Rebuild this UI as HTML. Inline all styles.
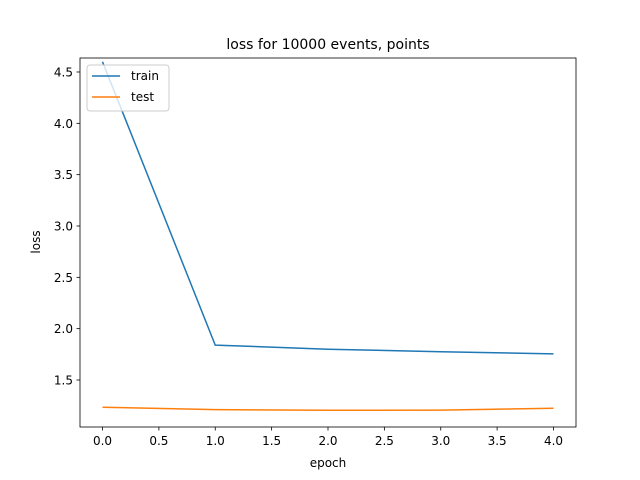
<!DOCTYPE html>
<html><head><meta charset="utf-8">
<style>body{margin:0;background:#fff}svg{display:block;font-family:"DejaVu Sans","Liberation Sans",sans-serif}</style>
</head><body>
<svg id="chart" width="640" height="480">
<rect width="640" height="480" fill="#fff"/>
<text x="328" y="49" font-size="14" text-anchor="middle">loss for 10000 events, points</text>
<g id="plot"></g>
<rect x="80" y="58" width="496" height="369" fill="none" stroke="#000" stroke-width="0.8"/>
<text x="328" y="467" font-size="12" text-anchor="middle">epoch</text>
<text transform="translate(40,242) rotate(-90)" font-size="12" text-anchor="middle">loss</text>
<g>
<rect x="87" y="65" width="82" height="46" rx="3" fill="#fff" fill-opacity="0.8" stroke="#ccc"/>
<line x1="92" y1="76" x2="120" y2="76" stroke="#1f77b4" stroke-width="1.5"/>
<text x="131" y="80" font-size="12">train</text>
<line x1="92" y1="97" x2="120" y2="97" stroke="#ff7f0e" stroke-width="1.5"/>
<text x="131" y="101" font-size="12">test</text>
</g>
</svg>
<script>
const epochs = [0, 1, 2, 3, 4];
const trainLoss = [4.6, 1.84, 1.80, 1.775, 1.755];
const testLoss = [1.235, 1.212, 1.205, 1.207, 1.225];
const xTicks = [0, 0.5, 1, 1.5, 2, 2.5, 3, 3.5, 4];
const yTicks = [1.5, 2.0, 2.5, 3.0, 3.5, 4.0, 4.5];
const NS = "http://www.w3.org/2000/svg";
const g = document.getElementById("plot");
function xs(v){return 102.5 + v*112.75;}
function ys(v){return 380 - (v-1.5)*102.67;}
function mk(tag, attrs){const e=document.createElementNS(NS,tag);for(const k in attrs)e.setAttribute(k,attrs[k]);g.appendChild(e);return e;}
xTicks.forEach(t=>{
  const l=mk("line",{x1:xs(t),x2:xs(t),y1:427,y2:430.5,stroke:"#000","stroke-width":0.8});
  
  
  const tx=mk("text",{x:xs(t),y:445,"font-size":12,"text-anchor":"middle"});
  tx.textContent=t.toFixed(1);
  
  
});
yTicks.forEach(t=>{
  const l=mk("line",{x1:76.5,x2:80,y1:ys(t),y2:ys(t),stroke:"#000","stroke-width":0.8});
  
  
  const tx=mk("text",{x:73,y:ys(t)+4.5,"font-size":12,"text-anchor":"end"});
  tx.textContent=t.toFixed(1);
  
  
});
function line(vals,color,name){
  const p=mk("polyline",{points:epochs.map((e,i)=>xs(e)+","+ys(vals[i])).join(" "),fill:"none",stroke:color,"stroke-width":1.5});
  
  
}
line(trainLoss,"#1f77b4","train-line");
line(testLoss,"#ff7f0e","test-line");
</script>
</body></html>
